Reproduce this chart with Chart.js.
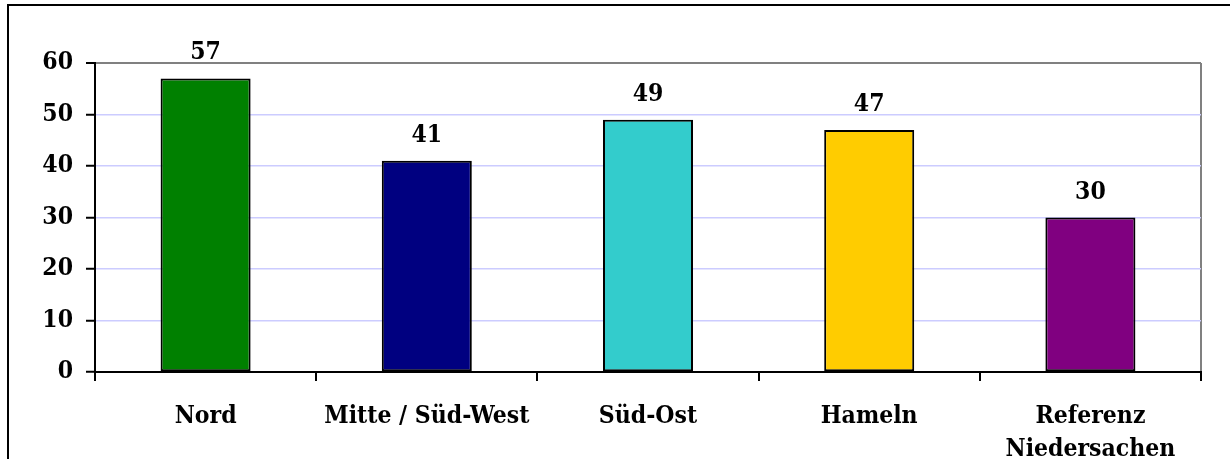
<!DOCTYPE html>
<html>
<head>
<meta charset="utf-8">
<style>
  html, body { margin: 0; padding: 0; background: #ffffff; }
  #wrap { position: relative; width: 1230px; height: 459px; }
  canvas { display: block; }
</style>
<script src="https://cdn.jsdelivr.net/npm/chart.js@4/dist/chart.umd.min.js"></script>
</head>
<body>
<div id="wrap"><canvas id="chart" width="1230" height="459"></canvas></div>
<script>
// Regions and their values
const categories = ['Nord', 'Mitte / Süd-West', 'Süd-Ost', 'Hameln', ['Referenz', 'Niedersachen']];
const values = [57, 41, 49, 47, 30];
const barColors = ['#008000', '#000080', '#33CCCC', '#FFCC00', '#800080'];
const yTicks = [0, 10, 20, 30, 40, 50, 60];

const FONT_FAMILY = '"DejaVu Serif Condensed", "DejaVu Serif", serif';
const FONT = { family: FONT_FAMILY, size: 24.5, weight: 'bold', lineHeight: 1.35 };

// Outer frame of the figure (top and left edges)
const framePlugin = {
  id: 'frame',
  beforeDraw(chart) {
    const ctx = chart.ctx;
    ctx.save();
    ctx.fillStyle = '#ffffff';
    ctx.fillRect(0, 0, chart.width, chart.height);
    ctx.strokeStyle = '#000000';
    ctx.lineWidth = 2;
    ctx.beginPath();
    ctx.moveTo(chart.width, 5);
    ctx.lineTo(8, 5);
    ctx.lineTo(8, chart.height);
    ctx.stroke();
    ctx.restore();
  }
};

// Value labels above each bar
const valueLabelPlugin = {
  id: 'valueLabels',
  afterDatasetsDraw(chart) {
    const ctx = chart.ctx;
    const meta = chart.getDatasetMeta(0);
    ctx.save();
    ctx.font = `bold ${FONT.size}px ${FONT_FAMILY}`;
    ctx.fillStyle = '#000000';
    ctx.textAlign = 'center';
    ctx.textBaseline = 'alphabetic';
    meta.data.forEach((bar, i) => {
      ctx.fillText(String(values[i]), bar.x, bar.y - 19);
    });
    ctx.restore();
  }
};

new Chart(document.getElementById('chart'), {
  type: 'bar',
  data: {
    labels: categories,
    datasets: [{
      data: values,
      backgroundColor: barColors,
      borderColor: '#000000',
      borderWidth: 2,
      borderSkipped: false,
      categoryPercentage: 1.0,
      barPercentage: 0.407
    }]
  },
  options: {
    responsive: false,
    animation: false,
    devicePixelRatio: 1,
    layout: { padding: { top: 63, right: 29, left: 0, bottom: 0 } },
    plugins: {
      legend: { display: false },
      title: { display: false },
      tooltip: { enabled: false }
    },
    scales: {
      x: {
        offset: true,
        afterFit(scale) { scale.height = 87; },
        border: { display: true, color: '#000000', width: 2 },
        grid: {
          offset: true,
          drawOnChartArea: true,
          drawTicks: true,
          tickLength: 9,
          tickWidth: 2,
          tickColor: '#000000',
          lineWidth: 2,
          color: (c) => (c.index === undefined ? '#808080' : 'rgba(0,0,0,0)')
        },
        ticks: {
          color: '#000000',
          font: FONT,
          padding: 19,
          maxRotation: 0,
          autoSkip: false
        }
      },
      y: {
        min: 0,
        max: 60,
        afterFit(scale) { scale.width = 95; },
        afterBuildTicks(scale) { scale.ticks = yTicks.map(v => ({ value: v })); },
        border: { display: true, color: '#000000', width: 2 },
        grid: {
          drawTicks: true,
          tickLength: 9,
          tickWidth: 2,
          tickColor: '#000000',
          lineWidth: (c) => (c.tick && c.tick.value === 60 ? 2 : 1.5),
          color: (c) => (c.tick && c.tick.value === 60 ? '#808080' : '#CCCCFF')
        },
        ticks: {
          color: '#000000',
          font: FONT,
          padding: 13
        }
      }
    }
  },
  plugins: [framePlugin, valueLabelPlugin]
});
</script>
</body>
</html>
